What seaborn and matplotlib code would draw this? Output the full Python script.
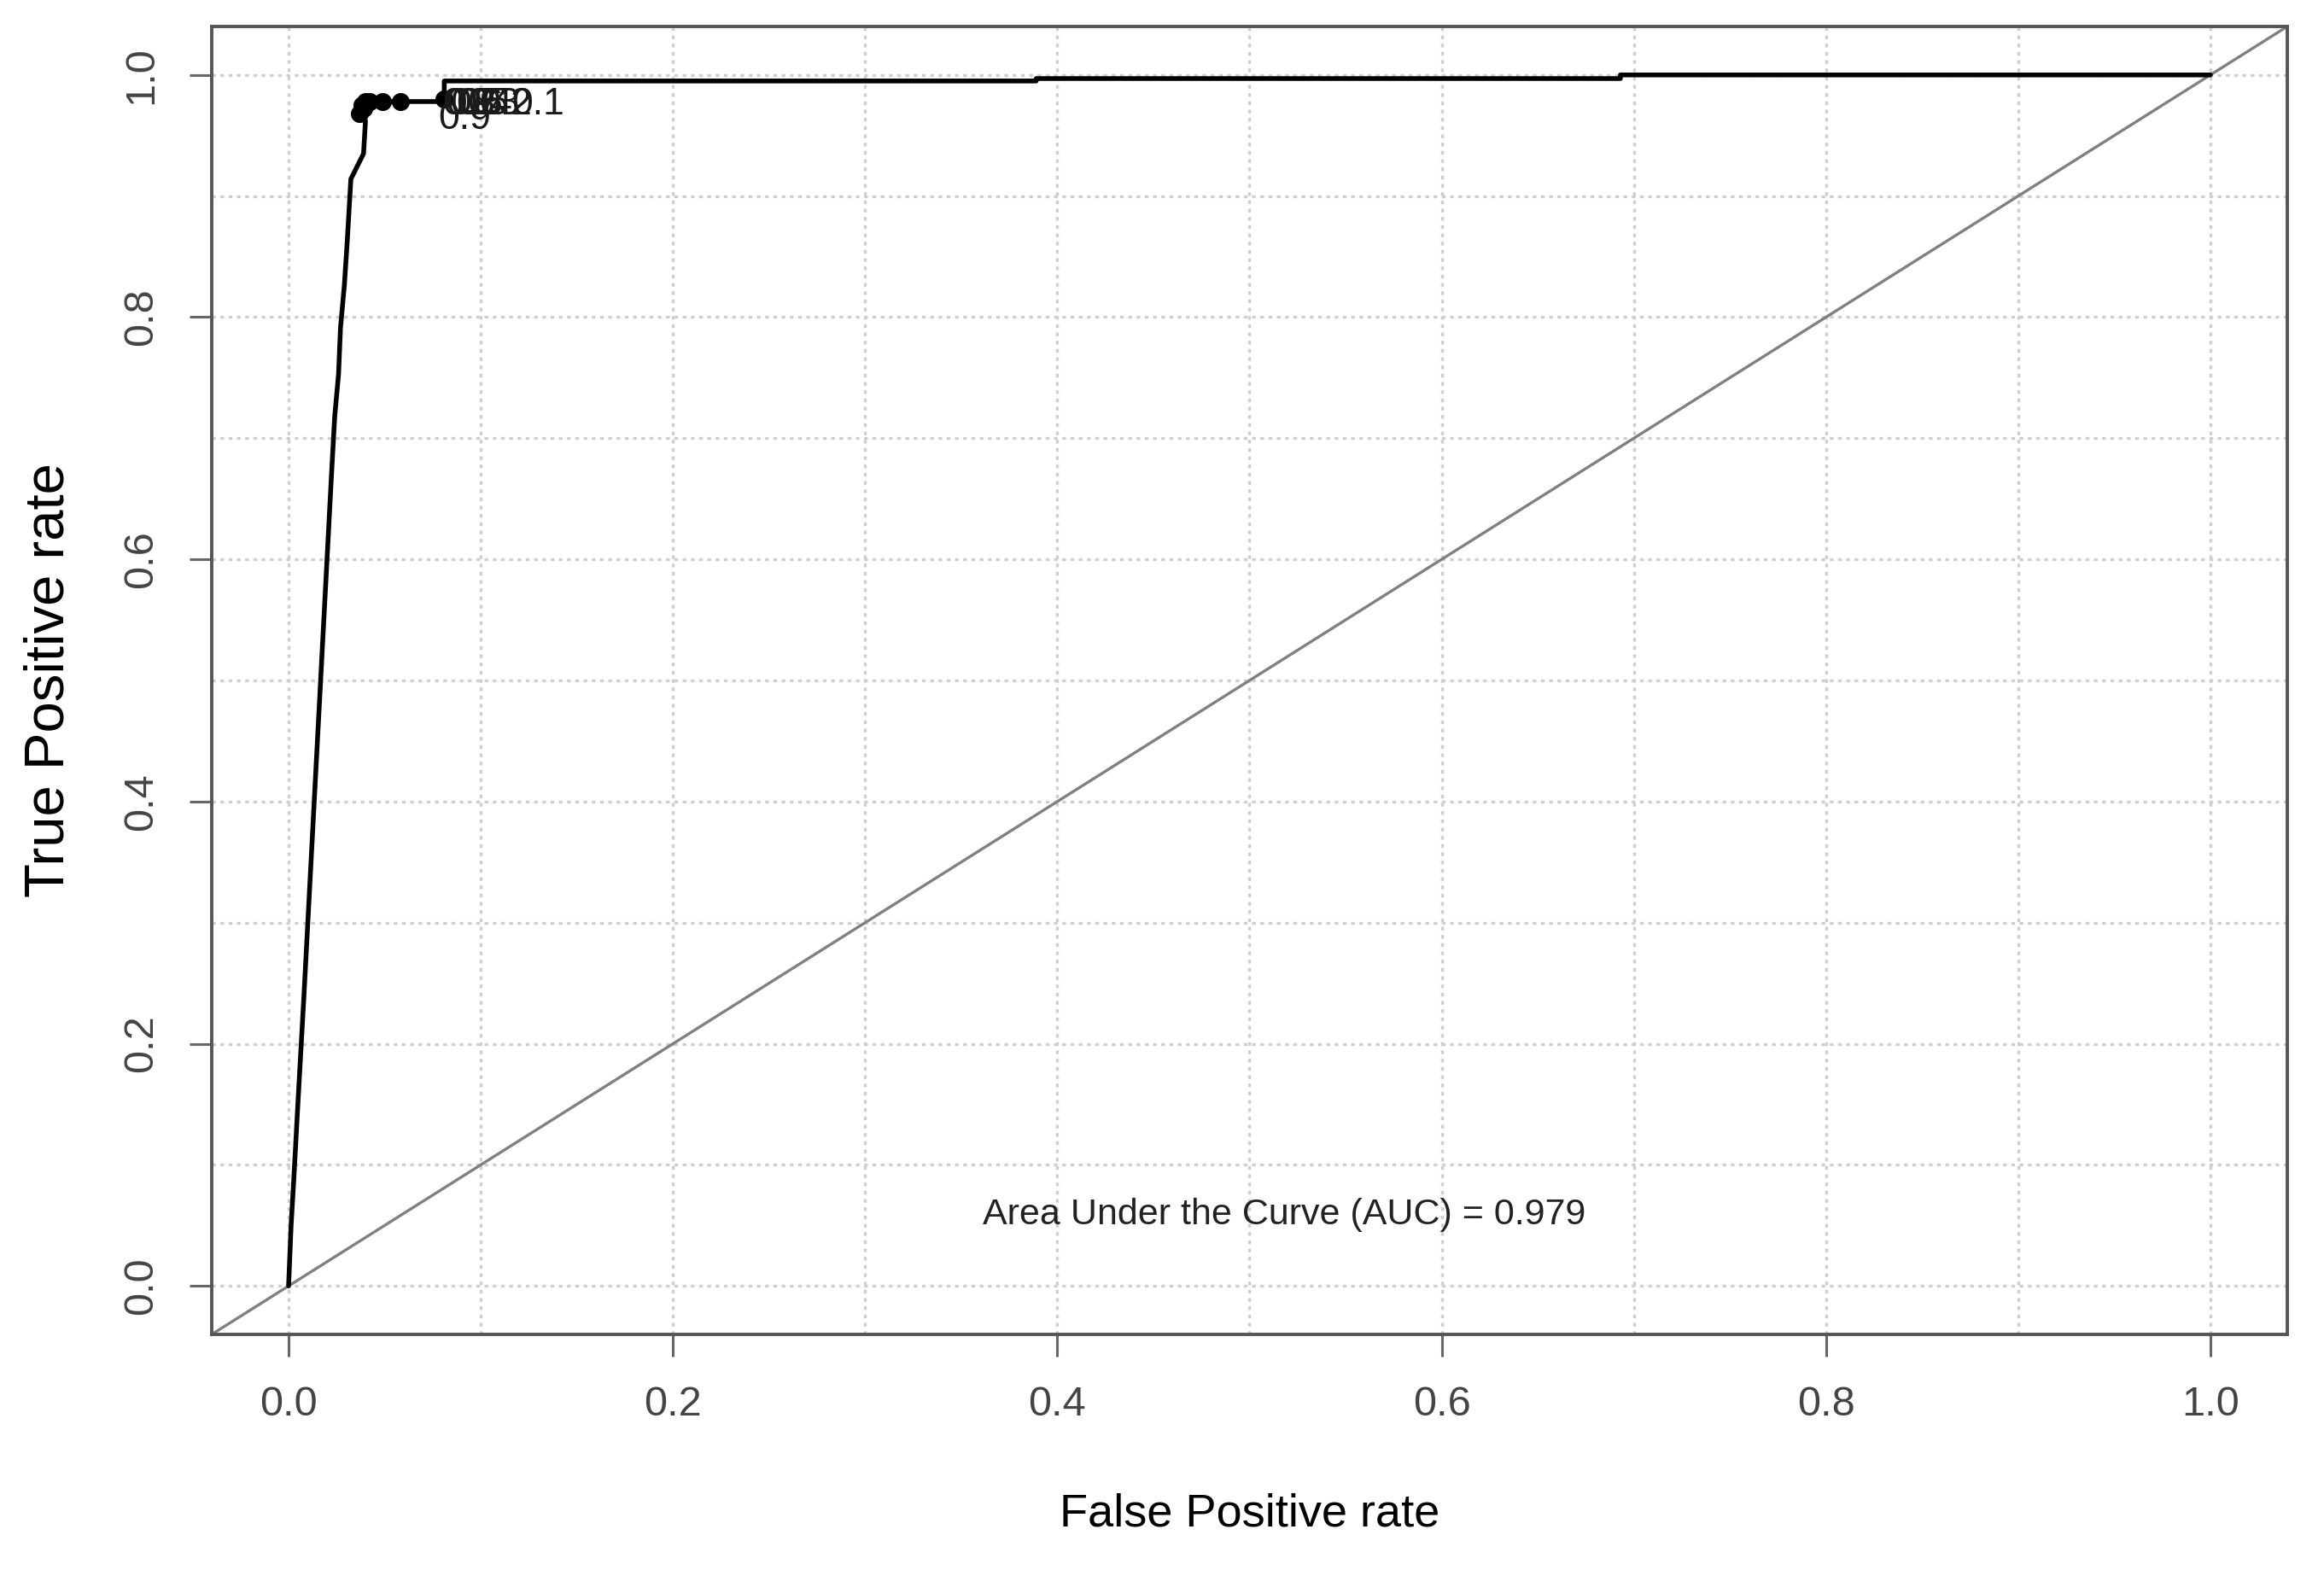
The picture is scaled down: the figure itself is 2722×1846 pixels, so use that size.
import matplotlib
matplotlib.use("Agg")
import matplotlib.pyplot as plt
import seaborn as sns
import numpy as np
import pandas as pd

# ---- data ----
fpr = [0.000, 0.0013, 0.0026, 0.0050, 0.0080, 0.0110, 0.0140, 0.0170,
       0.0200, 0.0226, 0.0240, 0.0260, 0.0270, 0.0290, 0.0305, 0.0324,
       0.0390, 0.0400, 0.0370, 0.0420, 0.0810, 0.0810, 0.389, 0.389,
       0.693, 0.693, 1.000]
tpr = [0.000, 0.050, 0.085, 0.155, 0.240, 0.330, 0.420, 0.510,
       0.600, 0.678, 0.718, 0.753, 0.791, 0.826, 0.862, 0.914,
       0.935, 0.962, 0.970, 0.978, 0.978, 0.995, 0.995, 0.997,
       0.997, 1.000, 1.000]

cut_x = [0.037, 0.038, 0.039, 0.040, 0.042, 0.049, 0.058, 0.081]
cut_y = [0.968, 0.975, 0.972, 0.978, 0.978, 0.978, 0.978, 0.980]

cut_labels = ["0.9", "0.8", "0.7", "0.6", "0.5", "0.4", "0.3", "0.2", "0.1"]
cut_lab_x = [0.078, 0.080, 0.082, 0.084, 0.087, 0.089, 0.093, 0.099, 0.116]
cut_lab_y = [0.978, 0.990, 0.990, 0.990, 0.990, 0.990, 0.990, 0.990, 0.990]

auc_value = 0.979
x_ticks = [0.0, 0.2, 0.4, 0.6, 0.8, 1.0]
y_ticks = [0.0, 0.2, 0.4, 0.6, 0.8, 1.0]
grid_vals = [0.0, 0.1, 0.2, 0.3, 0.4, 0.5, 0.6, 0.7, 0.8, 0.9, 1.0]

# ---- style ----
sns.set_style("white")
FONT = ["Liberation Sans", "DejaVu Sans"]
plt.rcParams["font.family"] = FONT

fig = plt.figure(figsize=(27.22, 18.46), dpi=100)
ax = fig.add_axes([0.0911, 0.1533, 0.9842 - 0.0911, 0.9832 - 0.1533])

# grid (dotted light gray every 0.1)
for g in grid_vals:
    ax.axvline(g, color="#cfcfcf", lw=2.4, ls=(0, (1.3, 1.6)), zorder=0)
    ax.axhline(g, color="#cfcfcf", lw=2.4, ls=(0, (1.3, 1.6)), zorder=0)

# diagonal
ax.axline((0, 0), (1, 1), color="#808080", lw=2.4, zorder=1)

# ROC curve
df = pd.DataFrame({"fpr": fpr, "tpr": tpr})
sns.lineplot(data=df, x="fpr", y="tpr", sort=False, estimator=None,
             color="black", lw=4.0, ax=ax, zorder=3)

# cutoff markers
sns.scatterplot(x=cut_x, y=cut_y, color="black", s=230, edgecolor="black",
                linewidth=0, ax=ax, zorder=4)

for lab, lx, ly in zip(cut_labels, cut_lab_x, cut_lab_y):
    ax.text(lx, ly, lab, fontsize=32, color="#1a1a1a", ha="left", va="top",
            zorder=5)

ax.text(0.518, 0.059, f"Area Under the Curve (AUC) = {auc_value}",
        fontsize=31, color="#222222", ha="center", va="center")

ax.set_xlim(-0.04, 1.04)
ax.set_ylim(-0.04, 1.04)
ax.set_xticks(x_ticks)
ax.set_yticks(y_ticks)
ax.set_xticklabels([f"{v:.1f}" for v in x_ticks], fontsize=35, color="#444444")
ax.set_yticklabels([f"{v:.1f}" for v in y_ticks], fontsize=35, color="#444444",
                   rotation=90, va="center")
ax.tick_params(axis="both", direction="out", length=19, width=2.2,
               color="#666666", pad=24, bottom=True, left=True)

ax.set_xlabel("False Positive rate", fontsize=39, color="black", labelpad=58)
ax.set_ylabel("True Positive rate", fontsize=47, color="black", labelpad=40)

for sp in ax.spines.values():
    sp.set_color("#555555")
    sp.set_linewidth(2.8)
    sp.set_visible(True)

fig.savefig("out.png", dpi=100, facecolor="white")
